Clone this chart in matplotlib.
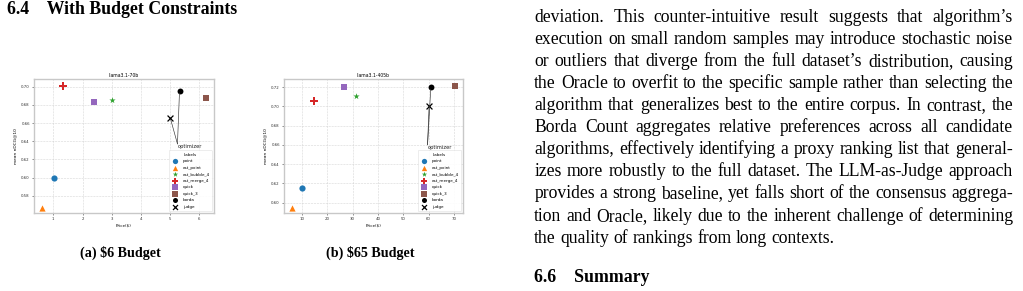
import matplotlib
matplotlib.use('Agg')
import matplotlib.pyplot as plt
from matplotlib.font_manager import FontProperties

W, H = 1023, 291

# Data
labels = ['point', 'est_point', 'est_bubble_4', 'est_merge_4', 'quick', 'quick_3', 'borda', 'judge']
markers = ['o', '^', '*', 'P', 's', 's', 'o', 'x']
colors = ['#1f77b4', '#ff7f0e', '#2ca02c', '#d62728', '#9467bd', '#8c564b', 'black', 'black']
sizes = [20, 20, 22, 32, 24, 24, 18, 18]

price_70b = [1.03, 0.62, 3.01, 1.34, 2.39, 6.22, 5.32, 5.00]
ndcg_70b = [0.599, 0.5668, 0.685, 0.7008, 0.6832, 0.6876, 0.6953, 0.666]

price_405b = [10.0, 6.05, 31.3, 14.9, 26.6, 70.4, 60.9, 60.2]
ndcg_405b = [0.6155, 0.5945, 0.711, 0.7058, 0.720, 0.721, 0.720, 0.700]

heading_1 = '6.4    With Budget Constraints'
heading_2 = '6.6    Summary'
captions = ['(a) \\$6 Budget', '(b) \\$65 Budget']

paragraph = [
    'deviation. This counter-intuitive result suggests that algorithm\u2019s',
    'execution on small random samples may introduce stochastic noise',
    'or outliers that diverge from the full dataset\u2019s distribution, causing',
    'the Oracle to overfit to the specific sample rather than selecting the',
    'algorithm that generalizes best to the entire corpus. In contrast, the',
    'Borda Count aggregates relative preferences across all candidate',
    'algorithms, effectively identifying a proxy ranking list that general-',
    'izes more robustly to the full dataset. The LLM-as-Judge approach',
    'provides a strong baseline, yet falls short of the consensus aggrega-',
    'tion and Oracle, likely due to the inherent challenge of determining',
    'the quality of rankings from long contexts.',
]


def px_axes(x0, y0, x1, y1):
    return fig.add_axes([x0 / W, 1 - y1 / H, (x1 - x0) / W, (y1 - y0) / H])


def draw_panel(ax, price, ndcg, title, xlim, ylim, xticks, yticks, text_xy):
    for i in range(len(labels)):
        lw = 0.9 if markers[i] == 'x' else 0
        ax.scatter(price[i], ndcg[i], marker=markers[i], color=colors[i], s=sizes[i],
                   linewidths=lw, label=labels[i], zorder=3)
    # optimizer label with lines to borda and judge
    ax.text(text_xy[0], text_xy[1], 'optimizer', fontsize=3.7, va='top', ha='left',
            color='#222222')
    for i in [6, 7]:
        ax.annotate('', xy=(price[i], ndcg[i]), xytext=text_xy,
                    arrowprops=dict(arrowstyle='-', color='#333333', lw=0.45,
                                    shrinkA=0, shrinkB=1.5))
    ax.set_xlim(xlim)
    ax.set_ylim(ylim)
    ax.set_xticks(xticks)
    ax.set_yticks(yticks)
    ax.set_title(title, fontsize=3.3, pad=1.5)
    ax.set_xlabel('Price($)', fontsize=3, labelpad=2)
    ax.set_ylabel('mean nDCG@10', fontsize=3.2, labelpad=3)
    ax.tick_params(labelsize=2.8, length=1.5, width=0.4, pad=1.5, colors='#333333')
    ax.grid(True, linestyle='--', linewidth=0.4, color='#cccccc', alpha=0.8)
    ax.set_axisbelow(True)
    for s in ax.spines.values():
        s.set_color('#c8c8c8')
        s.set_linewidth(1.0)
    leg = ax.legend(title='Labels', loc='lower right', fontsize=3.0, title_fontsize=3.0,
                    markerscale=0.85, handletextpad=0.8, labelspacing=0.6,
                    borderpad=0.6, borderaxespad=0.4, frameon=True, framealpha=0.9)
    leg.get_frame().set_linewidth(0.4)
    leg.get_frame().set_edgecolor('#dddddd')


fig = plt.figure(figsize=(W / 100, H / 100), dpi=100)

ax1 = px_axes(34, 79, 214, 213)
draw_panel(ax1, price_70b, ndcg_70b, 'llama3.1-70b', (0.34, 6.5), (0.561, 0.7085),
           [1, 2, 3, 4, 5, 6], [0.58, 0.60, 0.62, 0.64, 0.66, 0.68, 0.70], (5.25, 0.637))

ax2 = px_axes(284, 79, 463, 213)
draw_panel(ax2, price_405b, ndcg_405b, 'llama3.1-405b', (2.9, 73.6), (0.5893, 0.7283),
           [10, 20, 30, 40, 50, 60, 70], [0.60, 0.62, 0.64, 0.66, 0.68, 0.70, 0.72], (59.6, 0.660))

serif = ['Liberation Serif', 'DejaVu Serif']
fp_head = FontProperties(family=serif, size=12.8, weight='bold')
fp_cap = FontProperties(family=serif, size=10.2, weight='bold')

fig.text(7 / W, 1 - 13.5 / H, heading_1, fontproperties=fp_head, va='baseline', ha='left')
fig.text(534 / W, 1 - 282.5 / H, heading_2, fontproperties=fp_head, va='baseline', ha='left')
fig.text(120 / W, 1 - 257 / H, captions[0], fontproperties=fp_cap, va='baseline', ha='center')
fig.text(370 / W, 1 - 257 / H, captions[1], fontproperties=fp_cap, va='baseline', ha='center')

# justified paragraph on the right
fig.canvas.draw()
renderer = fig.canvas.get_renderer()
x_left, x_right = 534.3, 1013


def text_m(s, fp):
    return renderer.get_text_width_height_descent(s, fp, ismath=False)


# pick the body size so the longest line just fits the column
probe = FontProperties(family=serif, size=13)
widest = max(text_m(line, probe)[0] for line in paragraph[:-1])
fp_body = FontProperties(family=serif, size=13 * (x_right - x_left) / widest * 0.99)

space_w = text_m('a a', fp_body)[0] - 2 * text_m('a', fp_body)[0]
for n, line in enumerate(paragraph):
    words = line.split(' ')
    metrics = [text_m(w, fp_body) for w in words]
    widths = [m[0] for m in metrics]
    last = n == len(paragraph) - 1
    if last or len(words) < 2:
        gap = space_w
    else:
        gap = (x_right - x_left - sum(widths)) / (len(words) - 1)
    # whole-pixel baseline; agg rounds (baseline + descent), so cancel the
    # fractional part of each word's descent to keep words on one line
    y = round(21.7 + n * 22.1)
    x = x_left
    for w, m in zip(words, metrics):
        d = m[2]
        y_word = y + (d - round(d))
        fig.text(x / W, 1 - y_word / H, w, fontproperties=fp_body,
                 va='baseline', ha='left')
        x += m[0] + gap

plt.savefig('out.png', dpi=100)
plt.close()
